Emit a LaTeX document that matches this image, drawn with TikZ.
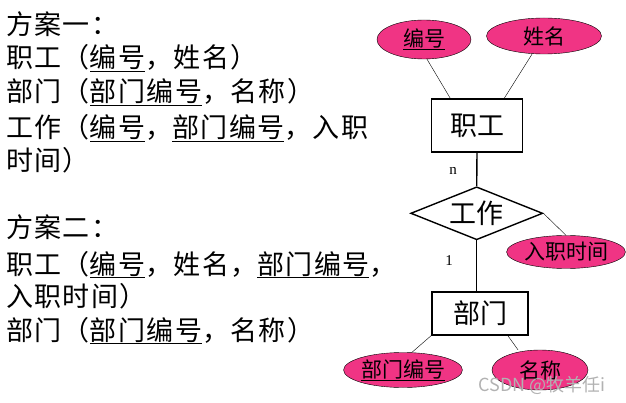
\documentclass[tikz,border=0pt]{standalone}
\usepackage{fontspec}
\setmainfont{Noto Sans CJK SC}
\newfontfamily\latinserif{Liberation Serif}
\newfontfamily\schemefont[LetterSpace=5]{Noto Sans CJK SC}
\usepackage{tikz}
\usetikzlibrary{shapes}

\definecolor{attrpink}{RGB}{240,52,132}

\begin{document}
\begin{tikzpicture}[x=1pt, y=-1pt,
semithick,
txt/.style={anchor=base west, inner sep=0pt, font=\schemefont\fontsize{27}{27}\selectfont},
entity/.style={draw, line width=1.6pt, rectangle, inner sep=0pt, font=\fontsize{27}{27}\selectfont},
rel/.style={draw, line width=1.4pt, diamond, aspect=2.5, inner sep=0pt, minimum width=132pt, minimum height=53pt, font=\fontsize{27}{27}\selectfont},
attr/.style={draw, thin, ellipse, fill=attrpink, inner sep=0pt, font=\fontsize{21}{21}\selectfont},
card/.style={inner sep=0pt, font=\latinserif\fontsize{15}{15}\selectfont}]

\useasboundingbox (0,0) rectangle (626,403);

% scheme text
\node[txt] (l1) at (6,35)  {方案一：};
\node[txt] (l2) at (6,68)  {职工（\underline{编号}，姓名）};
\node[txt] (l3) at (6,102) {部门（\underline{部门编号}，名称）};
\node[txt] (l4) at (6,138) {工作（\underline{编号}，\underline{部门编号}，入职};
\node[txt] (l5) at (6,171) {时间）};
\node[txt] (l6) at (6,238) {方案二：};
\node[txt] (l7) at (6,274) {职工（\underline{编号}，姓名，\underline{部门编号}，};
\node[txt] (l8) at (6,306) {入职时间）};
\node[txt] (l9) at (6,340) {部门（\underline{部门编号}，名称）};

% E-R diagram
\node[attr, minimum width=94pt, minimum height=39pt]  (bh)   at (424,39.5) {\underline{编号}};
\node[attr, minimum width=115pt, minimum height=36pt] (xm)   at (544,36)   {姓名};
\node[entity, minimum width=91pt, minimum height=53pt] (zg)  at (477,125.5) {职工};
\node[rel]                                             (gz)  at (476.7,213.3) {工作};
\node[attr, minimum width=114pt, minimum height=33pt] (rzsj) at (566,252)  {入职时间};
\node[entity, minimum width=96pt, minimum height=43pt] (bm)  at (480,313.3) {部门};
\node[attr, minimum width=97pt, minimum height=35pt]  (bmbh) at (403,370)  {\underline{部门编号}};
\node[attr, minimum width=96pt, minimum height=40pt]  (mc)   at (540,370)  {名称};

\node[card] (n) at (453,171) {n};
\node[card] (one) at (449,261) {1};

\path[thin]
 ([xshift=3pt]bh.south) edge ([xshift=19.5pt]zg.north west)
 ([xshift=-12pt]xm.south) edge ([xshift=-19pt]zg.north east)
 (gz.east) edge (rzsj.north)
 (bm.south west) edge ([xshift=9pt]bmbh.north)
 ([xshift=-21pt]bm.south east) edge ([xshift=-22pt]mc.north);

\path[line width=1.4pt]
 (zg.south) edge (gz.north)
 (gz.south) edge (gz.south |- bm.north);

% watermark
\node[inner sep=0pt, text=black!30, font=\fontsize{18}{18}\selectfont] (wm) at (542,385) {CSDN @牧羊任i};

\end{tikzpicture}
\end{document}
